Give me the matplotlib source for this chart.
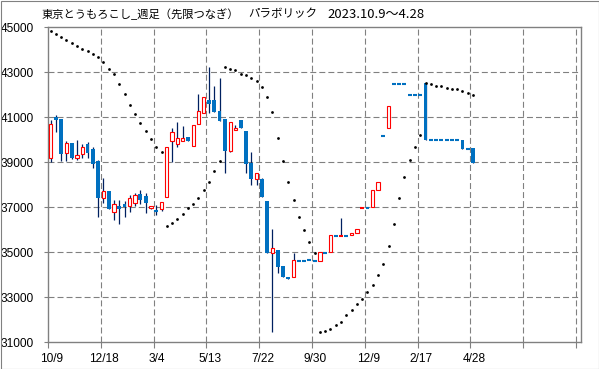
import matplotlib
matplotlib.use('Agg')
import matplotlib.pyplot as plt
import matplotlib.transforms as mtransforms
from matplotlib.patches import Rectangle

plt.rcParams['lines.scale_dashes'] = False

# ---- data (weekly OHLC, Tokyo corn, continuous nearby) ----
opens = [39180, 41030, 40910, 39400, 39860, 39200, 39380, 39810, 39590, 39060,
         37400, 37720, 36800, 37040, 37150, 37070, 37200, 37590, 37500, 36960,
         36880, 36910, 37440, 39950, 39800, 39950, 40110, 39720, 40720, 41180,
         41760, 41760, 41280, 40920, 39520, 40420, 40880, 40390, 38990, 38260,
         38260, 37280, 34960, 35100, 34390, 33920, 33890, 34630, 34630, 34660,
         34630, 34630, 34990, 35000, 35740, 35730, 35740, 35750, 35840, 36970,
         36980, 37000, 37760, 40180, 40510, 42490, 42490, 42490, 42000, 42000,
         42000, 42520, 40000, 40000, 40000, 40000, 40000, 40000, 40000, 39600,
         39630]
highs = [40890, 41100, 40910, 39960, 39860, 39980, 39800, 39920, 39680, 39100,
         38320, 37720, 37320, 37320, 37300, 37550, 37650, 37770, 37650, 37080,
         37100, 37250, 39690, 40510, 40800, 40630, 40110, 40670, 42030, 41890,
         43250, 42400, 42730, 40920, 40780, 40660, 40880, 40390, 39440, 38510,
         38320, 37280, 36050, 35100, 34390, 33920, 34960, 34630, 34630, 34660,
         34630, 35000, 34990, 35760, 35740, 36510, 35740, 35840, 36020, 36990,
         36980, 37770, 38110, 40180, 41490, 42490, 42490, 42490, 42000, 42000,
         42000, 42520, 40000, 40000, 40000, 40000, 40000, 40000, 40000, 39600,
         39630]
lows = [39000, 40360, 39060, 39060, 39150, 39100, 39200, 39200, 38760, 36580,
        37200, 36910, 36440, 36250, 36580, 36800, 37070, 37150, 36760, 36930,
        36660, 36850, 37440, 39030, 39690, 39950, 39960, 39720, 40720, 41180,
        41180, 41250, 40850, 38510, 39480, 40420, 40510, 38510, 37990, 37990,
        37470, 34960, 31440, 34070, 33890, 33830, 33890, 34630, 34630, 34660,
        34630, 34630, 34990, 35000, 35740, 35730, 35740, 35750, 35840, 36970,
        36980, 37000, 37760, 40180, 40510, 42490, 42490, 42490, 42000, 42000,
        42000, 39990, 40000, 40000, 40000, 40000, 40000, 40000, 39600, 39600,
        38990]
closes = [40690, 40890, 39380, 39840, 39200, 39310, 39670, 39430, 38910, 37400,
          37720, 36910, 37130, 36940, 37010, 37400, 37560, 37310, 37200, 37060,
          36800, 37250, 39690, 40330, 40070, 40090, 39960, 40670, 41270, 41890,
          41600, 41250, 40850, 39520, 40780, 40520, 40510, 38910, 38240, 38510,
          37470, 34960, 35180, 34360, 33890, 33830, 34660, 34630, 34630, 34660,
          34630, 35000, 34990, 35760, 35740, 35750, 35740, 35840, 36020, 36990,
          36980, 37770, 38110, 40180, 41490, 42490, 42490, 42490, 42000, 42000,
          42000, 39990, 40000, 40000, 40000, 40000, 40000, 40000, 39600, 39600,
          38990]
sar = [44840, 44690, 44560, 44420, 44290, 44160, 44050, 43930, 43800, 43680,
       43440, 43130, 42910, 42490, 42020, 41530, 41130, 40730, 40380, 40020,
       39690, 39440, 36180, 36290, 36470, 36690, 36960, 37150, 37400, 37760,
       38110, 38630, 39060, 43250, 43160, 43090, 42940, 42870, 42760, 42600,
       42330, 41920, 41250, 40070, 39040, 38110, 37310, 36580, 35990, 35440,
       34960, 31460, 31520, 31580, 31760, 31900, 32200, 32440, 32690, 32910,
       33220, 33530, 33980, 34470, 35270, 36260, 37400, 38330, 39100, 39690,
       40200, 42520, 42470, 42410, 42370, 42320, 42280, 42240, 42190, 42070,
       41970]
x_labels = ['10/9', '12/18', '3/4', '5/13', '7/22', '9/30', '12/9', '2/17', '4/28', '', '']
y_ticks = [31000, 33000, 35000, 37000, 39000, 41000, 43000, 45000]
title_main = '東京とうもろこし_週足（先限つなぎ）'
title_ind = 'パラボリック'
title_date = '2023.10.9～4.28'

# ---- styling ----
W, H = 599, 369
BLUE = '#0070C0'
RED = '#FF0000'
WICK = '#002060'
GRID = '#808080'
LBL = 'Liberation Sans'
CJK = ['Noto Sans CJK JP', 'DejaVu Sans']

fig = plt.figure(figsize=(W / 100, H / 100), dpi=100)
L, R, T, B = 48, 581, 27.3, 342.3
ax = fig.add_axes([L / W, 1 - B / H, (R - L) / W, (B - T) / H])

bw = 0.72
for i, (o, h, l, c) in enumerate(zip(opens, highs, lows, closes)):
    if h > l:
        ax.vlines(i, l, h, color=WICK, lw=0.9, zorder=2)
    up = c > o
    if abs(c - o) < 45:
        ax.hlines((o + c) / 2, i - bw / 2, i + bw / 2,
                  color=RED if up else BLUE, lw=1.5, zorder=3)
    elif up:
        ax.add_patch(Rectangle((i - bw / 2 + 0.05, o), bw - 0.1, c - o,
                               facecolor='white', edgecolor=RED, lw=0.8, zorder=3))
    else:
        ax.add_patch(Rectangle((i - bw / 2, c), bw, o - c,
                               facecolor=BLUE, edgecolor='none', zorder=3))

ax.plot(range(len(sar)), sar, linestyle='none', marker='o', ms=2.0, mew=0,
        color='black', zorder=4)

ax.set_xlim(-0.5, 100.45)
ax.set_ylim(31000, 45000)
xt = [-0.5 + 10 * k for k in range(11)]
ax.set_xticks(xt)
ax.set_xticklabels(x_labels, fontsize=8.6, family=LBL)
ax.set_yticks(y_ticks)
ax.set_yticklabels([str(v) for v in y_ticks], fontsize=8.6, family=LBL)
ax.tick_params(axis='x', length=4, width=0.8, color=GRID, pad=4)
ax.tick_params(axis='y', length=3, width=0.8, color=GRID, pad=7)
shift = mtransforms.ScaledTranslation(3.5 / 100, 0, fig.dpi_scale_trans)
for lab in ax.get_xticklabels():
    lab.set_transform(lab.get_transform() + shift)

for k in range(1, 11):
    ax.axvline(xt[k], color=GRID, lw=0.8, ls=(0, (4.3, 2.2)), zorder=1)
for v in y_ticks[1:-1]:
    ax.axhline(v, color=GRID, lw=0.8, ls=(0, (4.3, 2.2)), zorder=1)
for s in ax.spines.values():
    s.set_color(GRID)
    s.set_linewidth(1.0)

fig.text(42 / W, 1 - 14 / H, title_main, fontsize=8.1, family=CJK, va='center', ha='left')
fig.text(248 / W, 1 - 14 / H, title_ind, fontsize=8.3, family=CJK, va='center', ha='left')
fig.text(327 / W, 1 - 14 / H, title_date, fontsize=9.4, family=CJK, va='center', ha='left')

fig.add_artist(Rectangle((0.5 / W, 0.5 / H), (W - 1) / W, (H - 1) / H,
                         transform=fig.transFigure, fill=False,
                         edgecolor=GRID, lw=0.8))

fig.savefig('out.png', dpi=100)
